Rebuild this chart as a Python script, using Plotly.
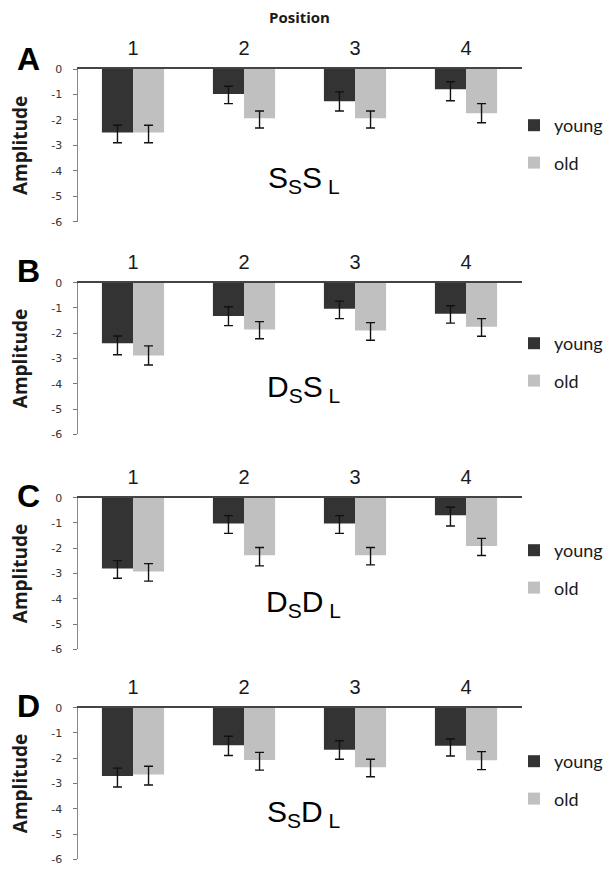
import plotly.graph_objects as go

# ---------------- data ----------------
positions = ["1", "2", "3", "4"]
y_tick_vals = [0, -1, -2, -3, -4, -5, -6]
y_tick_labels = ["0", "-1", "-2", "-3", "-4", "-5", "-6"]
panel_letters = ["A", "B", "C", "D"]
conditions = ["S<sub>S</sub>S<sub> L</sub>", "D<sub>S</sub>S<sub> L</sub>",
              "D<sub>S</sub>D<sub> L</sub>", "S<sub>S</sub>D<sub> L</sub>"]

# panel A (SsSl)
young_A = [-2.50, -0.98, -1.27, -0.80]
young_A_hi = [-2.21, -0.68, -0.90, -0.50]
young_A_lo = [-2.90, -1.36, -1.65, -1.25]
old_A = [-2.50, -1.94, -1.94, -1.74]
old_A_hi = [-2.21, -1.65, -1.65, -1.36]
old_A_lo = [-2.90, -2.32, -2.32, -2.11]

# panel B (DsSl)
young_B = [-2.40, -1.32, -1.03, -1.23]
young_B_hi = [-2.11, -0.95, -0.73, -0.91]
young_B_lo = [-2.85, -1.70, -1.42, -1.60]
old_B = [-2.88, -1.85, -1.89, -1.74]
old_B_hi = [-2.50, -1.54, -1.58, -1.42]
old_B_lo = [-3.26, -2.22, -2.28, -2.12]

# panel C (DsDl)
young_C = [-2.80, -1.02, -1.02, -0.69]
young_C_hi = [-2.49, -0.71, -0.71, -0.38]
young_C_lo = [-3.19, -1.41, -1.41, -1.12]
old_C = [-2.92, -2.28, -2.28, -1.91]
old_C_hi = [-2.61, -1.97, -1.97, -1.61]
old_C_lo = [-3.30, -2.70, -2.66, -2.29]

# panel D (SsDl)
young_D = [-2.70, -1.49, -1.66, -1.51]
young_D_hi = [-2.39, -1.13, -1.31, -1.24]
young_D_lo = [-3.14, -1.89, -2.04, -1.91]
old_D = [-2.64, -2.07, -2.36, -2.08]
old_D_hi = [-2.32, -1.77, -2.04, -1.74]
old_D_lo = [-3.06, -2.47, -2.73, -2.45]

young_vals = [young_A, young_B, young_C, young_D]
young_his = [young_A_hi, young_B_hi, young_C_hi, young_D_hi]
young_los = [young_A_lo, young_B_lo, young_C_lo, young_D_lo]
old_vals = [old_A, old_B, old_C, old_D]
old_his = [old_A_hi, old_B_hi, old_C_hi, old_D_hi]
old_los = [old_A_lo, old_B_lo, old_C_lo, old_D_lo]

# ---------------- layout constants (pixels) ----------------
W, H = 608, 871
plot_left, plot_right = 77.5, 521.5
panel_top = [69.0, 282.7, 497.7, 707.7]
panel_bot = [221.7, 434.3, 649.3, 859.3]
letter_y = [59.0, 271.0, 496.0, 706.0]
legend_first_y = [124.0, 342.0, 549.0, 760.0]

YOUNG_COLOR = "#333333"
OLD_COLOR = "#c0c0c0"
TEXT = "#1a1a1a"


def fy(px):
    return 1 - px / H


fig = go.Figure()

layout = dict(
    width=W, height=H,
    margin=dict(l=0, r=0, t=0, b=0, autoexpand=False),
    paper_bgcolor="white", plot_bgcolor="white",
    barmode="group", bargap=0.44, bargroupgap=0.0,
    showlegend=True,
    annotations=[],
)

for i in range(4):
    sfx = "" if i == 0 else str(i + 1)
    xa, ya = "x" + sfx, "y" + sfx
    lg = "legend" + sfx
    for name, vals, his, los, col in [
        ("young", young_vals[i], young_his[i], young_los[i], YOUNG_COLOR),
        ("old", old_vals[i], old_his[i], old_los[i], OLD_COLOR),
    ]:
        plus = [round(h - v, 3) for h, v in zip(his, vals)]
        minus = [round(v - l, 3) for v, l in zip(vals, los)]
        fig.add_trace(go.Bar(
            x=positions, y=vals, name=name,
            marker=dict(color=col, line=dict(width=0)),
            error_y=dict(type="data", symmetric=False, array=plus, arrayminus=minus,
                         color="#111111", thickness=1.4, width=4.5),
            xaxis=xa, yaxis=ya, legend=lg, legendgroup=name + sfx,
        ))

    xaxis = dict(
        domain=[plot_left / W, plot_right / W], anchor=ya, side="top",
        type="category", showline=True, linecolor="#444444", linewidth=1.5,
        ticks="", showgrid=False, zeroline=False, fixedrange=True, automargin=False,
        tickfont=dict(family="Liberation Sans, Arial", size=20, color=TEXT),
        ticklabelstandoff=4,
    )
    if i == 0:
        xaxis["title"] = dict(text="<b>Position</b>", standoff=10,
                              font=dict(family="Open Sans", size=15, color=TEXT))
    yaxis = dict(
        domain=[fy(panel_bot[i]), fy(panel_top[i])], anchor=xa,
        range=[-6, 0], tickvals=y_tick_vals, ticktext=y_tick_labels,
        ticks="outside", ticklen=4, tickcolor="#777777", tickwidth=1,
        showline=True, linecolor="#888888", linewidth=1,
        showgrid=False, zeroline=False, fixedrange=True, automargin=False,
        tickfont=dict(family="DejaVu Sans", size=11, color="#333333"),
        ticklabelstandoff=8,
        title=dict(text="<b>Amplitude</b>", standoff=18,
                   font=dict(family="Open Sans", size=19, color=TEXT)),
    )
    layout["xaxis" + sfx] = xaxis
    layout["yaxis" + sfx] = yaxis

    layout[lg] = dict(
        x=(534 - 20) / W, xanchor="left",
        y=fy(legend_first_y[i] - 17), yanchor="top",
        bgcolor="rgba(0,0,0,0)", borderwidth=0,
        font=dict(family="Lato", size=18, color=TEXT),
        traceorder="grouped", tracegroupgap=11, itemwidth=30,
    )

    layout["annotations"].append(dict(
        text="<b>" + panel_letters[i] + "</b>", xref="paper", yref="paper",
        x=28 / W, y=fy(letter_y[i]), xanchor="center", yanchor="middle",
        showarrow=False, font=dict(family="Liberation Sans, Arial", size=32, color="black"),
    ))
    layout["annotations"].append(dict(
        text=conditions[i], xref=xa, yref=ya,
        x=1.54, y=-4.35 if i == 0 else -4.2, xanchor="center", yanchor="middle",
        showarrow=False, font=dict(family="Liberation Sans, Arial", size=30, color="black"),
    ))

fig.update_layout(**layout)
fig.write_html("out.html", config={"displayModeBar": False},
               post_script="document.body.style.margin='0';")
